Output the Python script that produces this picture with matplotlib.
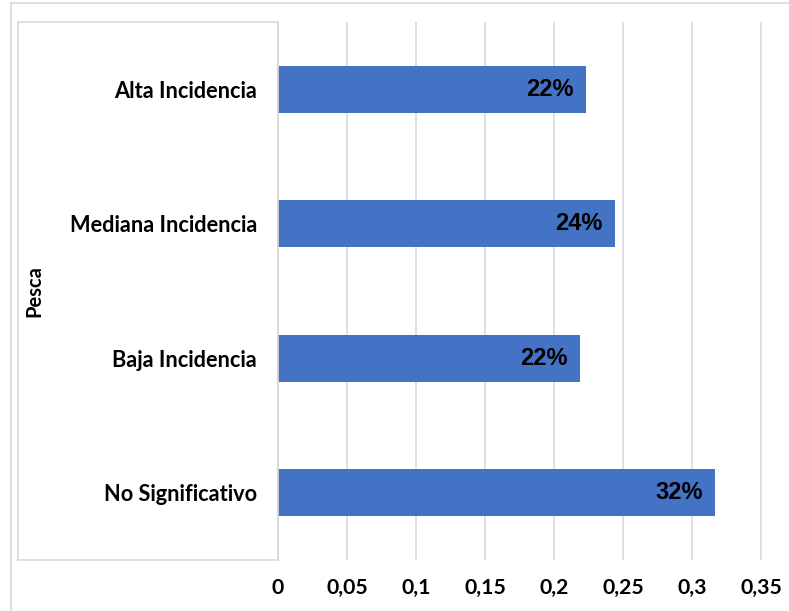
import numpy as np
import matplotlib.pyplot as plt
from matplotlib.lines import Line2D

# --- DATA ---
categorias = ["Alta Incidencia", "Mediana Incidencia", "Baja Incidencia", "No Significativo"]
valores = [0.223, 0.244, 0.219, 0.317]
etiquetas = ["22%", "24%", "22%", "32%"]
ticks_x = [0, 0.05, 0.1, 0.15, 0.2, 0.25, 0.3, 0.35]
ticks_x_txt = ["0", "0,05", "0,1", "0,15", "0,2", "0,25", "0,3", "0,35"]

W, H = 789, 611
grid_gris = "#d9d9d9"
azul = "#4472c4"

fig = plt.figure(figsize=(W / 100, H / 100), dpi=100)

# --- main plot area ---
x0, x1, y_top, y_bot = 278, 789, 22, 560
ax = fig.add_axes([x0 / W, 1 - y_bot / H, (x1 - x0) / W, (y_bot - y_top) / H])

y = np.arange(len(categorias))
ax.barh(y, valores, height=0.35, color=azul, zorder=3)
ax.set_ylim(len(categorias) - 0.5, -0.5)
ax.set_xlim(0, 0.05 * (x1 - x0) / 69)

for yi, v, txt in zip(y, valores, etiquetas):
    ax.annotate(txt, (v, yi), xytext=(-9, 0), textcoords="offset points",
                ha="right", va="center", fontsize=17, fontweight="bold",
                family="Liberation Sans", color="black", zorder=4)

ax.set_xticks(ticks_x)
ax.set_xticklabels(ticks_x_txt, fontsize=15.3, fontweight="bold", family="Lato")
ax.set_yticks(y)
ax.set_yticklabels(categorias, fontsize=15.7, fontweight="bold", family="Lato")
ax.tick_params(axis="both", length=0)
ax.tick_params(axis="x", pad=13)
ax.tick_params(axis="y", pad=15)
ax.grid(axis="x", color=grid_gris, linewidth=1.2, zorder=0)
for s in ["top", "right", "bottom"]:
    ax.spines[s].set_visible(False)
ax.spines["left"].set_color(grid_gris)
ax.spines["left"].set_linewidth(1.2)

# --- label box on the left ---
box = fig.add_axes([18 / W, 1 - y_bot / H, (x0 - 18) / W, (y_bot - y_top) / H])
box.set_xticks([])
box.set_yticks([])
box.patch.set_alpha(0)
for s in box.spines.values():
    s.set_color(grid_gris)
    s.set_linewidth(1.2)

fig.text(34.5 / W, 1 - 291 / H, "Pesca", rotation=90, ha="center", va="center",
         fontsize=14.5, fontweight="bold", family="Lato")

# --- outer frame ---
fig.add_artist(Line2D([11 / W, 11 / W], [0, 1 - 3 / H], color=grid_gris, lw=1.2))
fig.add_artist(Line2D([11 / W, 1], [1 - 3 / H, 1 - 3 / H], color=grid_gris, lw=1.2))

fig.savefig("out.png", dpi=100)
